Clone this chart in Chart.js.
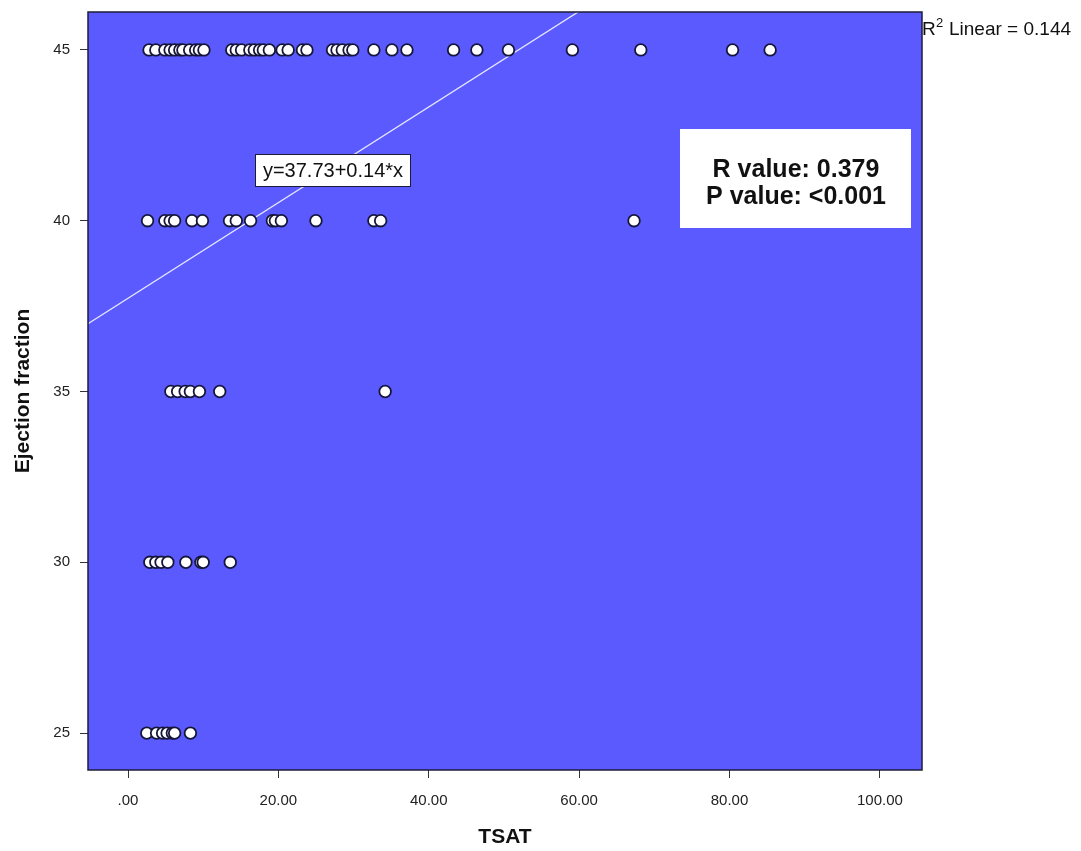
<!DOCTYPE html>
<html>
<head>
<meta charset="utf-8">
<title>TSAT vs Ejection fraction</title>
<script src="https://cdn.jsdelivr.net/npm/chart.js@4.4.1/dist/chart.umd.min.js"></script>
<style>
    html, body { margin: 0; padding: 0; background: #fff; }
    canvas { display: block; }
</style>
</head>
<body>
<canvas id="scatterChart" width="1081" height="851"></canvas>
<script>
// Observations, grouped by ejection fraction level
const ef45 = [2.8, 3.7, 4.9, 5.6, 6.2, 6.9, 7.3, 8.2, 9.0, 9.5, 10.1,
    13.8, 14.4, 15.1, 16.2, 16.8, 17.5, 18.0, 18.8, 20.5, 21.3, 23.2, 23.8,
    27.2, 27.8, 28.5, 29.4, 29.9, 32.7, 35.1, 37.1, 43.3, 46.4, 50.6, 59.1,
    68.2, 80.4, 85.4];
const ef40 = [2.6, 4.9, 5.6, 6.2, 8.5, 9.9, 13.5, 14.4, 16.3, 19.2, 19.6,
    20.4, 25.0, 32.7, 33.6, 67.3];
const ef35 = [5.7, 6.6, 7.6, 8.3, 9.5, 12.2, 34.2];
const ef30 = [2.9, 3.7, 4.4, 5.3, 7.7, 9.7, 10.0, 13.6];
const ef25 = [2.5, 3.8, 4.6, 5.2, 5.9, 6.2, 8.3];

const xTicks = [0, 20, 40, 60, 80, 100];
const yTicks = [25, 30, 35, 40, 45];

// Fit line y = 37.73 + 0.14 * x
const fitIntercept = 37.73;
const fitSlope = 0.14;
const xRange = [-5.32, 105.6];
const yRange = [23.92, 46.11];

const points = [];
[[45, ef45], [40, ef40], [35, ef35], [30, ef30], [25, ef25]].forEach(([ef, list]) => {
    list.forEach(v => points.push({ x: v, y: ef }));
});

const fitLine = xRange.map(x => ({ x: x, y: fitIntercept + fitSlope * x }));

const FONT = '"Liberation Sans", Arial, sans-serif';

// keep the plot box fixed regardless of tick label overhang
function noScalePadding(s) {
    s.paddingTop = 0;
    s.paddingBottom = 0;
    s.paddingLeft = 0;
    s.paddingRight = 0;
}

const plotDecor = {
    id: 'plotDecor',
    beforeDatasetsDraw(chart) {
        const { ctx, chartArea: a } = chart;
        ctx.save();
        ctx.fillStyle = '#5a5aff';
        ctx.fillRect(a.left, a.top, a.right - a.left, a.bottom - a.top);
        ctx.restore();
    },
    afterDatasetsDraw(chart) {
        const { ctx, chartArea: a } = chart;
        ctx.save();
        // plot frame
        ctx.strokeStyle = '#1c1c3a';
        ctx.lineWidth = 1.5;
        ctx.strokeRect(a.left, a.top, a.right - a.left, a.bottom - a.top);

        // equation label
        ctx.fillStyle = '#ffffff';
        ctx.fillRect(255, 154, 155, 32);
        ctx.strokeStyle = '#1c1c3a';
        ctx.lineWidth = 1;
        ctx.strokeRect(255.5, 154.5, 155, 32);
        ctx.fillStyle = '#111';
        ctx.font = '20px ' + FONT;
        ctx.textAlign = 'center';
        ctx.textBaseline = 'middle';
        ctx.fillText('y=37.73+0.14*x', 333, 171);

        // statistics box
        ctx.fillStyle = '#ffffff';
        ctx.fillRect(680, 129, 231, 99);
        ctx.fillStyle = '#111';
        ctx.font = 'bold 25px ' + FONT;
        ctx.fillText('R value: 0.379', 796, 170);
        ctx.fillText('P value: <0.001', 796, 197);

        // R squared note
        ctx.textAlign = 'left';
        ctx.font = '19px ' + FONT;
        ctx.fillText('R', 922, 30);
        ctx.font = '13px ' + FONT;
        ctx.fillText('2', 936, 23);
        ctx.font = '19px ' + FONT;
        ctx.fillText('Linear = 0.144', 949, 30);
        ctx.restore();
    }
};

new Chart(document.getElementById('scatterChart'), {
    type: 'scatter',
    data: {
        datasets: [{
            data: points,
            backgroundColor: '#ffffff',
            borderColor: '#16163c',
            borderWidth: 1.8,
            pointRadius: 5.8,
            order: 1
        }, {
            type: 'line',
            data: fitLine,
            borderColor: '#e8e8ff',
            borderWidth: 1.3,
            pointRadius: 0,
            fill: false,
            order: 2
        }]
    },
    options: {
        responsive: false,
        animation: false,
        layout: { padding: { left: 0, top: 12, right: 159, bottom: 0 } },
        plugins: {
            legend: { display: false },
            tooltip: { enabled: false }
        },
        scales: {
            x: {
                type: 'linear',
                min: xRange[0],
                max: xRange[1],
                afterBuildTicks: s => { s.ticks = xTicks.map(v => ({ value: v })); },
                afterFit: s => { s.height = 81; noScalePadding(s); },
                grid: { drawOnChartArea: false, tickLength: 8, color: '#333', tickColor: '#333' },
                border: { display: false },
                ticks: {
                    color: '#222',
                    font: { family: FONT, size: 15 },
                    padding: 14,
                    callback: v => v === 0 ? '.00' : v.toFixed(2)
                },
                title: {
                    display: true,
                    text: 'TSAT',
                    color: '#111',
                    font: { family: FONT, size: 21, weight: 'bold' },
                    padding: { top: 4, bottom: 1 }
                }
            },
            y: {
                type: 'linear',
                min: yRange[0],
                max: yRange[1],
                afterBuildTicks: s => { s.ticks = yTicks.map(v => ({ value: v })); },
                afterFit: s => { s.width = 88; noScalePadding(s); },
                grid: { drawOnChartArea: false, tickLength: 8, color: '#333', tickColor: '#333' },
                border: { display: false },
                ticks: {
                    color: '#222',
                    font: { family: FONT, size: 15 },
                    padding: 10
                },
                title: {
                    display: true,
                    text: 'Ejection fraction',
                    color: '#111',
                    font: { family: FONT, size: 21, weight: 'bold' },
                    padding: { top: 11, bottom: 2 }
                }
            }
        }
    },
    plugins: [plotDecor]
});
</script>
</body>
</html>
